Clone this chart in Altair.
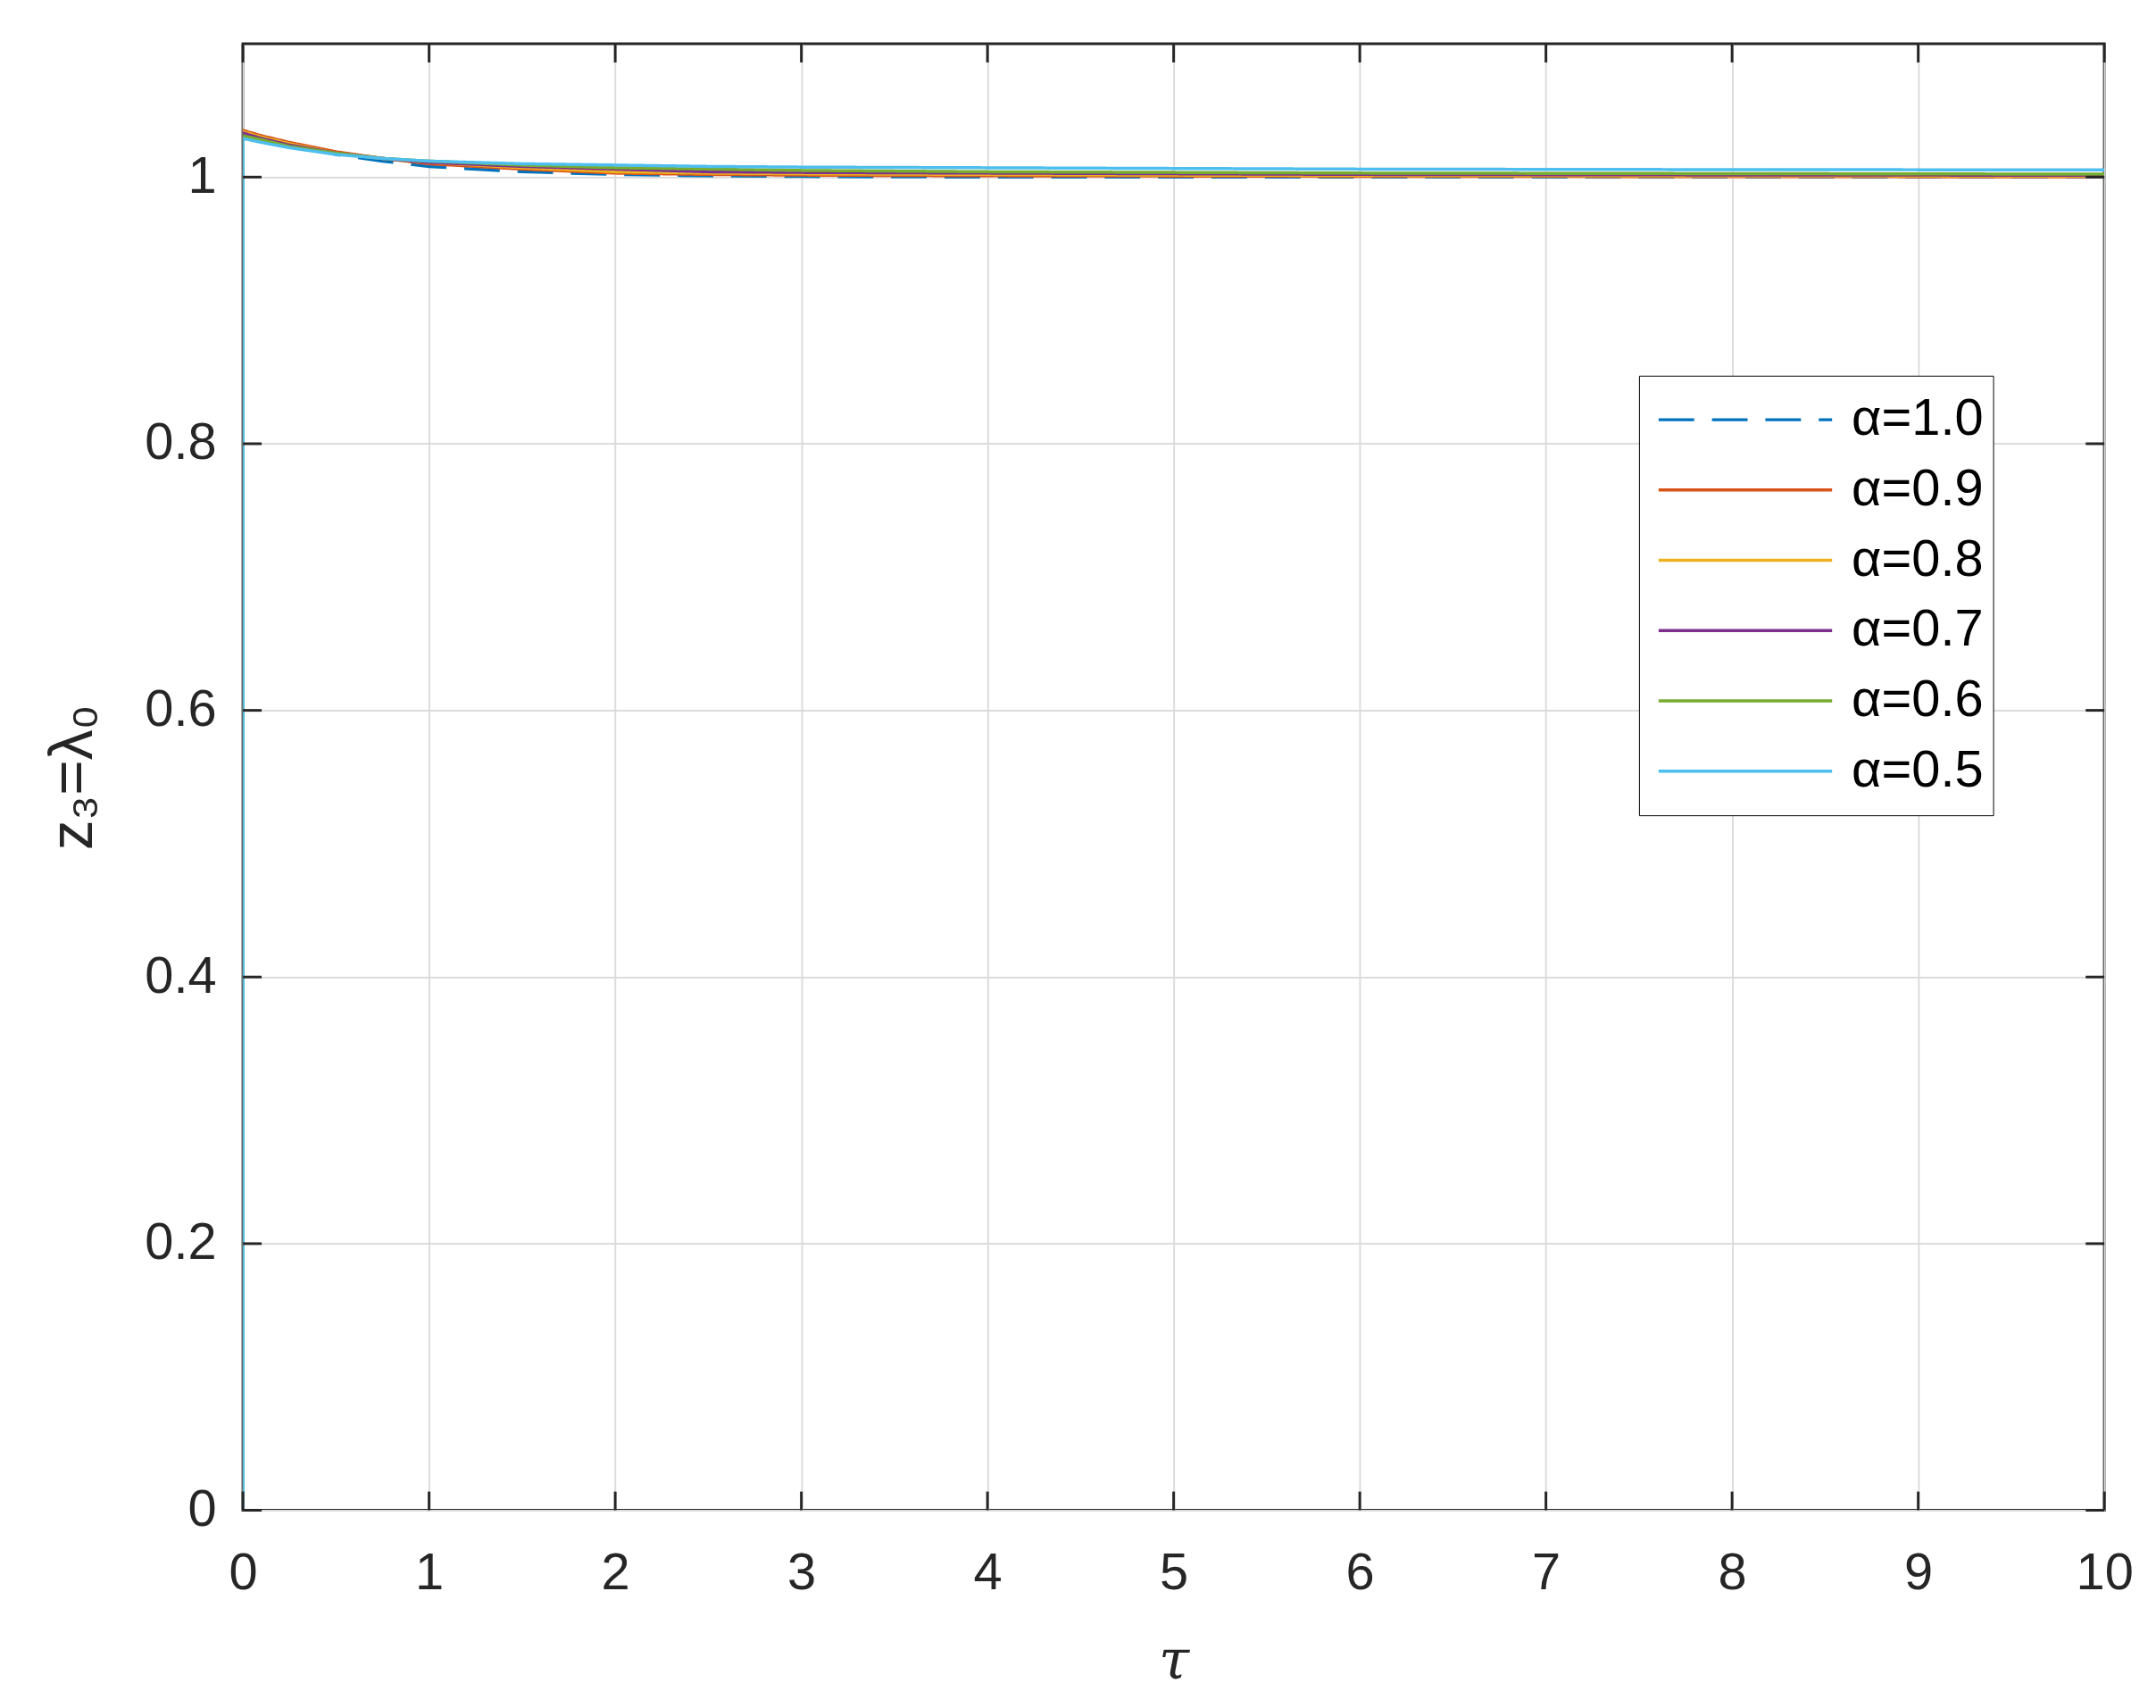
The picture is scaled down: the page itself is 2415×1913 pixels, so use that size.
import altair as alt
import pandas as pd

# time axis samples (tau)
tau = [0, 0, 0.1, 0.25, 0.5, 0.75, 1, 1.5, 2, 2.5, 3, 4, 5, 6, 7, 8, 9, 10]

z_a10 = [0, 1.033, 1.029, 1.024, 1.017, 1.012, 1.008, 1.004, 1.002, 1.001, 1.0005, 1.0, 1.0, 1.0, 1.0, 1.0, 1.0, 1.0]
z_a09 = [0, 1.035, 1.031, 1.026, 1.019, 1.014, 1.010, 1.006, 1.003, 1.002, 1.0015, 1.001, 1.0008, 1.0006, 1.0005, 1.0004, 1.0003, 1.0003]
z_a08 = [0, 1.034, 1.030, 1.025, 1.018, 1.014, 1.011, 1.007, 1.004, 1.003, 1.0025, 1.002, 1.0015, 1.0012, 1.001, 1.0009, 1.0008, 1.0007]
z_a07 = [0, 1.033, 1.029, 1.024, 1.018, 1.014, 1.011, 1.008, 1.006, 1.004, 1.0035, 1.003, 1.0025, 1.002, 1.0018, 1.0016, 1.0015, 1.0014]
z_a06 = [0, 1.031, 1.028, 1.023, 1.018, 1.014, 1.012, 1.009, 1.007, 1.006, 1.005, 1.004, 1.0035, 1.003, 1.0028, 1.0026, 1.0024, 1.0022]
z_a05 = [0, 1.029, 1.026, 1.022, 1.017, 1.014, 1.012, 1.010, 1.009, 1.008, 1.0075, 1.007, 1.0065, 1.006, 1.0058, 1.0056, 1.0055, 1.0054]

labels = ["α=1.0", "α=0.9", "α=0.8", "α=0.7", "α=0.6", "α=0.5"]
colors = ["#0072BD", "#D95319", "#EDB120", "#7E2F8E", "#77AC30", "#4DBEEE"]
dashes = [[40, 20], [1, 0], [1, 0], [1, 0], [1, 0], [1, 0]]

x_ticks = [0, 1, 2, 3, 4, 5, 6, 7, 8, 9, 10]
y_ticks = [0, 0.2, 0.4, 0.6, 0.8, 1.0]

series = [z_a10, z_a09, z_a08, z_a07, z_a06, z_a05]
rows = []
for lab, ys in zip(labels, series):
    for i, (t, v) in enumerate(zip(tau, ys)):
        rows.append({"tau": t, "z": v, "series": lab, "idx": i})
df = pd.DataFrame(rows)
xt_df = pd.DataFrame({"tau": x_ticks})
yt_df = pd.DataFrame({"z": y_ticks})

W, H = 2092, 1648
TL = 21  # inward tick length
AX = "#262626"

legend = alt.Legend(
    title=None,
    orient="none",
    legendX=1569,
    legendY=373,
    symbolType="stroke",
    symbolSize=38025,
    symbolStrokeWidth=3.5,
    clipHeight=79,
    rowPadding=0,
    padding=10,
    symbolOffset=10,
    labelOffset=20,
    labelFont="Liberation Sans",
    labelFontSize=58,
    labelColor="#000000",
    fillColor="#ffffff",
    strokeColor="#000000",
)

LABEL_FONT = "Liberation Sans"

x_axis = alt.Axis(values=x_ticks, title="τ", labelPadding=42, labelFlush=False,
                  labelFont=LABEL_FONT, labelFontSize=58, labelColor=AX,
                  domain=False, ticks=False, grid=True,
                  gridColor="#dcdcdc", gridWidth=2,
                  titleFont="DejaVu Serif", titleFontStyle="italic",
                  titleFontWeight="normal", titleFontSize=62, titleColor=AX,
                  titleY=170, titleBaseline="middle")
y_axis = alt.Axis(values=y_ticks, format="~g", title="z₃=λ₀", labelPadding=30, labelFlush=False,
                  labelFont=LABEL_FONT, labelFontSize=58, labelColor=AX,
                  domain=False, ticks=False, grid=True,
                  gridColor="#dcdcdc", gridWidth=2,
                  titleFont=LABEL_FONT, titleFontWeight="normal", titleColor=AX,
                  titleFontSize=68, titleX=-190, titleY=824,
                  titleBaseline="middle", titleAlign="center", titleAngle=270)
x_scale = alt.Scale(domain=[0, 10], nice=False, zero=False)
y_scale = alt.Scale(domain=[0, 1.1], nice=False)

x_enc = alt.X("tau:Q", scale=x_scale, axis=x_axis)
y_enc = alt.Y("z:Q", scale=y_scale, axis=y_axis)

lines = (
    alt.Chart(df)
    .mark_line(strokeWidth=3.5, clip=True, strokeCap="butt")
    .encode(
        x=x_enc,
        y=y_enc,
        color=alt.Color("series:N", scale=alt.Scale(domain=labels, range=colors), legend=legend),
        strokeDash=alt.StrokeDash("series:N", scale=alt.Scale(domain=labels, range=dashes), legend=legend),
        order=alt.Order("idx:Q"),
    )
)

tick_style = dict(color=AX, strokeWidth=3)

x_bottom = alt.Chart(xt_df).mark_rule(**tick_style).encode(x=x_enc, y=alt.value(H), y2=alt.value(H - TL))
x_top = alt.Chart(xt_df).mark_rule(**tick_style).encode(x=x_enc, y=alt.value(0), y2=alt.value(TL))
y_left = alt.Chart(yt_df).mark_rule(**tick_style).encode(y=y_enc, x=alt.value(0), x2=alt.value(TL))
y_right = alt.Chart(yt_df).mark_rule(**tick_style).encode(y=y_enc, x=alt.value(W), x2=alt.value(W - TL))

chart = (
    alt.layer(lines, x_bottom, x_top, y_left, y_right)
    .properties(
        width=W,
        height=H,
        autosize=alt.AutoSizeParams(type="none"),
        padding={"left": 265, "top": 38, "right": 50, "bottom": 210},
        background="#ffffff",
    )
    .configure_view(stroke=AX, strokeWidth=3)
)

chart.save("out.html", embed_options={"renderer": "svg", "actions": False})
